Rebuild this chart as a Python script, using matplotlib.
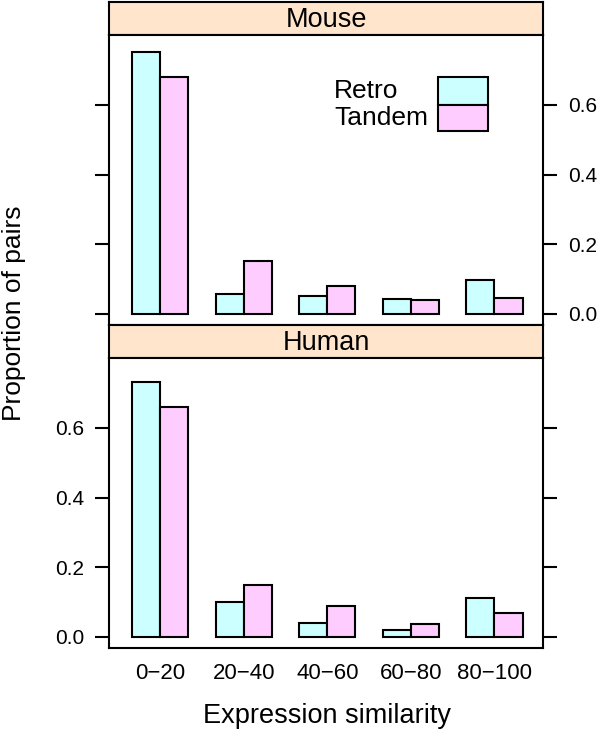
import matplotlib
matplotlib.use("Agg")
import matplotlib.pyplot as plt
from matplotlib.patches import Rectangle
import numpy as np

plt.rcParams['font.family'] = ['Liberation Sans', 'DejaVu Sans']

categories = ["0\u221220", "20\u221240", "40\u221260", "60\u221280", "80\u2212100"]
series = ["Retro", "Tandem"]
mouse_retro = [0.751, 0.056, 0.051, 0.043, 0.098]
mouse_tandem = [0.681, 0.151, 0.079, 0.040, 0.045]
human_retro = [0.732, 0.100, 0.040, 0.020, 0.110]
human_tandem = [0.660, 0.150, 0.088, 0.037, 0.067]
yticks = [0.0, 0.2, 0.4, 0.6]
ytick_labels = ["0.0", "0.2", "0.4", "0.6"]
panels = ["Mouse", "Human"]

col_retro = "#CCFFFF"
col_tandem = "#FFCCFF"
strip_col = "#FFE5CC"

W, H = 600, 734
fig = plt.figure(figsize=(W / 100, H / 100), dpi=100)

def px_axes(x0, y0, x1, y1):
    return fig.add_axes([x0 / W, 1 - y1 / H, (x1 - x0) / W, (y1 - y0) / H])

left, right = 109, 543
strip_h = 33.5
panel_h = 289.5
top0 = 1.5

lw = 1.5
data = {"Mouse": (mouse_retro, mouse_tandem), "Human": (human_retro, human_tandem)}
x = np.arange(1, len(categories) + 1)
bw = 0.335

for i, name in enumerate(panels):
    s0 = top0 + i * (strip_h + panel_h)
    sax = px_axes(left, s0, right, s0 + strip_h)
    sax.set_facecolor(strip_col)
    sax.set_xticks([]); sax.set_yticks([])
    for sp in sax.spines.values():
        sp.set_linewidth(lw)
    sax.text(0.5, 0.45, name, ha='center', va='center', fontsize=19.5, transform=sax.transAxes)

    ax = px_axes(left, s0 + strip_h, right, s0 + strip_h + panel_h)
    r, t = data[name]
    ax.bar(x - bw / 2, r, width=bw, color=col_retro, edgecolor='black', linewidth=lw, label=series[0], zorder=2)
    ax.bar(x + bw / 2, t, width=bw, color=col_tandem, edgecolor='black', linewidth=lw, label=series[1], zorder=2)
    ax.set_xlim(0.39, 5.58)
    ax.set_ylim(-0.031, 0.801)
    for sp in ax.spines.values():
        sp.set_linewidth(lw)
    ax.set_yticks(yticks)
    ax.tick_params(axis='y', which='both', left=True, right=True, direction='out',
                   length=10, width=lw, labelsize=15, pad=8)
    ax.set_yticklabels(ytick_labels)
    if name == "Mouse":
        ax.tick_params(axis='y', labelleft=False, labelright=True)
        ax.set_xticks([])
    else:
        ax.tick_params(axis='y', labelleft=True, labelright=False)
        ax.set_xticks(x)
        ax.set_xticklabels(categories)
        ax.tick_params(axis='x', length=0, labelsize=16, pad=11)

    if name == "Mouse":
        fig.text(334 / W, 1 - 91 / H, series[0], fontsize=19, ha='left', va='center')
        fig.text(334 / W, 1 - 118 / H, series[1], fontsize=19, ha='left', va='center')
        fig.patches.append(Rectangle((438 / W, 1 - 104.5 / H), 49.5 / W, 27 / H,
                                     transform=fig.transFigure, facecolor=col_retro,
                                     edgecolor='black', linewidth=lw, zorder=5))
        fig.patches.append(Rectangle((438 / W, 1 - 131 / H), 49.5 / W, 26.5 / H,
                                     transform=fig.transFigure, facecolor=col_tandem,
                                     edgecolor='black', linewidth=lw, zorder=5))

fig.text(14 / W, 1 - 313 / H, "Proportion of pairs", rotation=90, fontsize=19,
         ha='center', va='center')
fig.text(327 / W, 1 - 716 / H, "Expression similarity", fontsize=19.5,
         ha='center', va='center')

fig.savefig("out.png", dpi=100)
